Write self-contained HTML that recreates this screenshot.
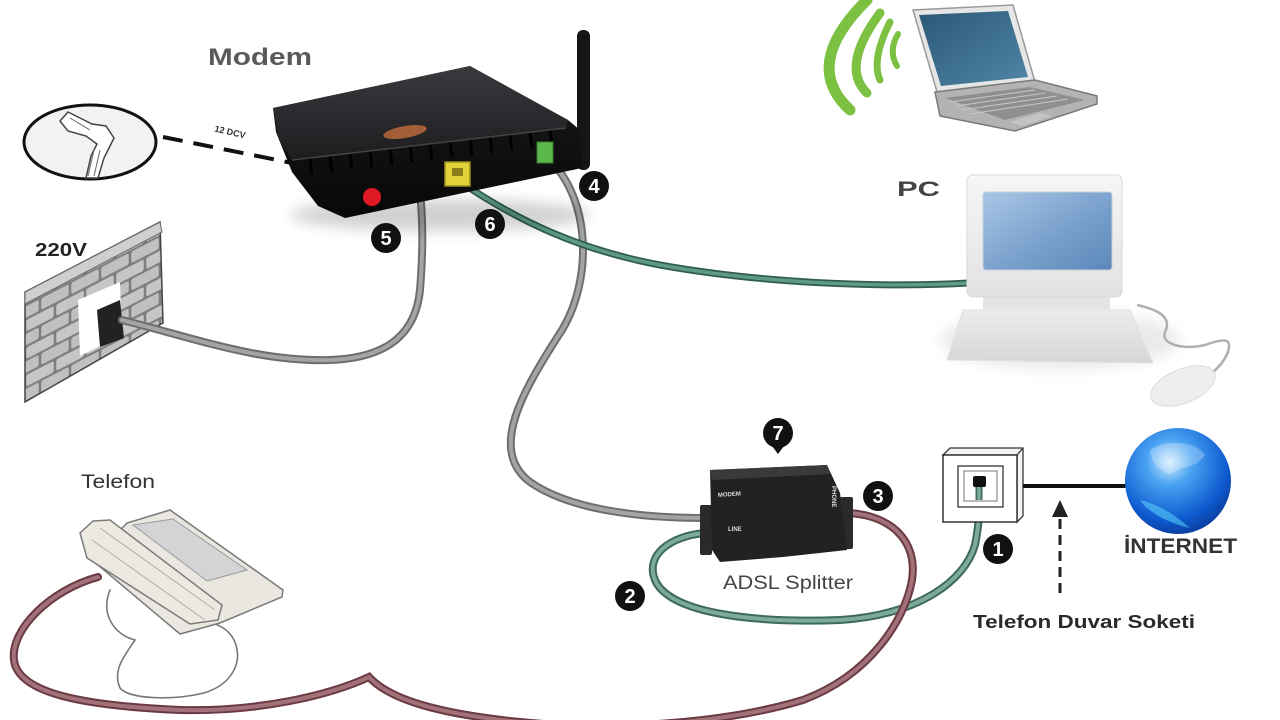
<!DOCTYPE html>
<html><head><meta charset="utf-8">
<style>html,body{margin:0;padding:0;background:#fff;}svg{display:block;}</style>
</head>
<body>
<svg width="1280" height="720" viewBox="0 0 1280 720" xmlns="http://www.w3.org/2000/svg" font-family="'Liberation Sans', Arial, sans-serif">
<defs>
  <linearGradient id="mTop" x1="0" y1="0" x2="0" y2="1"><stop offset="0" stop-color="#3a3a3e"/><stop offset="1" stop-color="#1d1d20"/></linearGradient>
  <linearGradient id="mFront" x1="0" y1="0" x2="0" y2="1"><stop offset="0" stop-color="#1a1a1a"/><stop offset="1" stop-color="#080808"/></linearGradient>
  <linearGradient id="lapScr" x1="0" y1="0" x2="1" y2="1"><stop offset="0" stop-color="#2c5877"/><stop offset="1" stop-color="#4f86a5"/></linearGradient>
  <linearGradient id="pcScr" x1="0" y1="0" x2="1" y2="1"><stop offset="0" stop-color="#a9c7e6"/><stop offset="0.5" stop-color="#7ea4cf"/><stop offset="1" stop-color="#5b87b8"/></linearGradient>
  <linearGradient id="pcFrame" x1="0" y1="0" x2="0" y2="1"><stop offset="0" stop-color="#f6f6f6"/><stop offset="1" stop-color="#e2e2e2"/></linearGradient>
  <linearGradient id="kb" x1="0" y1="0" x2="0" y2="1"><stop offset="0" stop-color="#ececec"/><stop offset="1" stop-color="#d6d6d6"/></linearGradient>
  <radialGradient id="globe" cx="0.42" cy="0.32" r="0.72"><stop offset="0" stop-color="#d4eeff"/><stop offset="0.3" stop-color="#4aa3f2"/><stop offset="0.75" stop-color="#0e5bd0"/><stop offset="1" stop-color="#0a3a9a"/></radialGradient>
  <filter id="blur" x="-50%" y="-50%" width="200%" height="200%"><feGaussianBlur stdDeviation="7"/></filter>
  <pattern id="bricks" patternUnits="userSpaceOnUse" width="30" height="27.5" patternTransform="translate(25,292) skewY(-27.4)">
    <rect x="0" y="0" width="30" height="27.5" fill="#7d7d7d"/>
    <rect x="1.2" y="1.2" width="27.6" height="11.4" rx="2" fill="#c6c6c6"/>
    <rect x="-13.8" y="14.9" width="27.6" height="11.4" rx="2" fill="#c0c0c0"/>
    <rect x="16.2" y="14.9" width="27.6" height="11.4" rx="2" fill="#c0c0c0"/>
  </pattern>
</defs>

<rect width="1280" height="720" fill="#ffffff"/>

<!-- Labels -->
<text x="208" y="65" font-size="24" font-weight="bold" fill="#5a5a5a" textLength="104" lengthAdjust="spacingAndGlyphs">Modem</text>
<text x="35" y="256" font-size="18" font-weight="bold" fill="#222" textLength="52" lengthAdjust="spacingAndGlyphs">220V</text>
<text x="81" y="488" font-size="19" fill="#333" textLength="74" lengthAdjust="spacingAndGlyphs">Telefon</text>
<text x="897" y="196" font-size="21" font-weight="bold" fill="#444" textLength="43" lengthAdjust="spacingAndGlyphs">PC</text>
<text x="723" y="589" font-size="19" fill="#444" textLength="130" lengthAdjust="spacingAndGlyphs">ADSL Splitter</text>
<text x="1124" y="553" font-size="21" font-weight="bold" fill="#333" textLength="113" lengthAdjust="spacingAndGlyphs">İNTERNET</text>
<text x="973" y="628" font-size="18" font-weight="bold" fill="#2a2a2a" textLength="222" lengthAdjust="spacingAndGlyphs">Telefon Duvar Soketi</text>

<!-- Plug bubble -->
<ellipse cx="90" cy="142" rx="66" ry="37" fill="#f2f2f2" stroke="#111" stroke-width="3"/>
<path d="M60,121 L68,112 L92,124 L106,126 L114,138 L104,158 L98,178 L86,178 L91,156 L97,144 L86,136 L68,131 Z" fill="#fff" stroke="#444" stroke-width="1.5"/>
<path d="M94,150 L88,176 M100,150 L94,176 M70,118 L90,130" stroke="#666" stroke-width="1" fill="none"/>
<line x1="163" y1="137" x2="292" y2="163" stroke="#111" stroke-width="4" stroke-dasharray="20 11"/>
<text x="214" y="135" font-size="9" font-weight="bold" fill="#333" transform="rotate(13 230 133)">12 DCV</text>

<!-- Brick wall -->
<polygon points="25,292 160,222 163,323 25,402" fill="url(#bricks)" stroke="#444" stroke-width="1.5"/>
<polygon points="25,292 160,222 162,232 25,304" fill="#cfcfcf" stroke="#666" stroke-width="1"/>
<polygon points="78,300 120,282 122,335 80,356" fill="#ffffff"/>
<polygon points="97,310 120,300 124,338 100,347" fill="#222"/>

<!-- Cables -->
<g fill="none" stroke-linecap="round">
  <!-- power (5) -->
  <path d="M122,320 C 200,340 260,362 330,360 C 392,358 416,330 420,290 C 424,240 422,212 420,192" stroke="#6e6e6e" stroke-width="8"/>
  <path d="M122,320 C 200,340 260,362 330,360 C 392,358 416,330 420,290 C 424,240 422,212 420,192" stroke="#a4a4a4" stroke-width="4"/>
  <!-- modem to splitter (4) -->
  <path d="M548,158 C 592,200 592,280 562,330 C 522,392 488,450 530,482 C 570,510 640,518 705,518" stroke="#6e6e6e" stroke-width="8"/>
  <path d="M548,158 C 592,200 592,280 562,330 C 522,392 488,450 530,482 C 570,510 640,518 705,518" stroke="#a4a4a4" stroke-width="4"/>
  <!-- to PC (6) -->
  <path d="M462,183 C 520,222 580,250 660,265 C 760,283 880,288 968,283" stroke="#2f5e4f" stroke-width="7"/>
  <path d="M462,183 C 520,222 580,250 660,265 C 760,283 880,288 968,283" stroke="#5f9a86" stroke-width="3.5"/>
  <!-- line cable (1/2) -->
  <path d="M705,533 C 670,536 645,555 655,580 C 670,615 760,623 840,620 C 920,615 965,580 975,545 C 980,520 980,500 979,487" stroke="#3d6b5b" stroke-width="8"/>
  <path d="M705,533 C 670,536 645,555 655,580 C 670,615 760,623 840,620 C 920,615 965,580 975,545 C 980,520 980,500 979,487" stroke="#7eab99" stroke-width="4"/>
  <!-- phone cable (3) -->
  <path d="M98,577 C 50,590 10,630 14,660 C 18,695 90,706 180,710 C 260,712 330,695 369,677 C 390,700 440,714 520,722 C 620,732 730,722 803,700 C 870,675 905,620 912,580 C 918,540 890,515 848,513" stroke="#6b3a43" stroke-width="8"/>
  <path d="M98,577 C 50,590 10,630 14,660 C 18,695 90,706 180,710 C 260,712 330,695 369,677 C 390,700 440,714 520,722 C 620,732 730,722 803,700 C 870,675 905,620 912,580 C 918,540 890,515 848,513" stroke="#a2727a" stroke-width="4"/>
  <!-- phone cord -->
  <path d="M110,590 C 100,615 115,635 135,640 C 125,655 112,670 120,688 C 130,700 175,700 204,693 C 230,685 242,665 236,645 C 232,632 222,626 212,623" stroke="#777" stroke-width="1.6"/>
</g>

<!-- Modem -->
<ellipse cx="440" cy="215" rx="150" ry="16" fill="#000" opacity="0.18" filter="url(#blur)"/>
<rect x="577" y="30" width="13" height="140" rx="6" fill="#151515"/>
<polygon points="273,108 470,66 568,120 580,130 582,168 345,218 318,206 292,172 276,132" fill="url(#mFront)"/>
<polygon points="273,108 470,66 568,120 566,128 292,160 279,140" fill="url(#mTop)"/>
<g stroke="#000" stroke-width="3">
  <line x1="310" y1="158" x2="312" y2="174"/><line x1="330" y1="156" x2="332" y2="172"/>
  <line x1="350" y1="153" x2="352" y2="169"/><line x1="370" y1="151" x2="372" y2="167"/>
  <line x1="390" y1="149" x2="392" y2="165"/><line x1="410" y1="146" x2="412" y2="162"/>
  <line x1="430" y1="144" x2="432" y2="160"/><line x1="450" y1="141" x2="452" y2="157"/>
  <line x1="470" y1="139" x2="472" y2="155"/><line x1="490" y1="137" x2="492" y2="153"/>
  <line x1="510" y1="134" x2="512" y2="150"/><line x1="530" y1="132" x2="532" y2="148"/>
  <line x1="550" y1="130" x2="552" y2="146"/>
</g>
<line x1="292" y1="160" x2="566" y2="128" stroke="#444" stroke-width="1.5"/>
<ellipse cx="405" cy="132" rx="22" ry="6" fill="#b8683a" opacity="0.85" transform="rotate(-10 405 132)"/>
<rect x="445" y="162" width="25" height="24" fill="#e2d23a" stroke="#9a8e20" stroke-width="1.5"/>
<rect x="452" y="168" width="11" height="8" fill="#8a7d18"/>
<rect x="537" y="142" width="16" height="21" fill="#5cb84a" stroke="#3a7a2c" stroke-width="1"/>
<circle cx="372" cy="197" r="9" fill="#e01a24"/>

<!-- Badges -->
<g font-weight="bold" font-size="20" fill="#fff" text-anchor="middle">
  <circle cx="386" cy="238" r="15" fill="#111"/><text x="386" y="245">5</text>
  <circle cx="490" cy="224" r="15" fill="#111"/><text x="490" y="231">6</text>
  <circle cx="594" cy="186" r="15" fill="#111"/><text x="594" y="193">4</text>
  <circle cx="778" cy="433" r="15" fill="#111"/><polygon points="772,446 784,446 778,454" fill="#111"/><text x="778" y="440">7</text>
  <circle cx="878" cy="496" r="15" fill="#111"/><text x="878" y="503">3</text>
  <circle cx="630" cy="596" r="15" fill="#111"/><text x="630" y="603">2</text>
  <circle cx="998" cy="549" r="15" fill="#111"/><text x="998" y="556">1</text>
</g>

<!-- Wifi -->
<g fill="none" stroke="#7cc142" stroke-linecap="round">
  <path d="M867,0 Q801,65 850,110" stroke-width="11"/>
  <path d="M880,13 Q840,67 867,93" stroke-width="9"/>
  <path d="M890,22 Q871,60 880,80" stroke-width="7"/>
  <path d="M898,34 Q888,51 897,66" stroke-width="6"/>
</g>

<!-- Laptop -->
<polygon points="913,10 1013,5 1035,82 937,92" fill="#e6e6e6" stroke="#9a9a9a" stroke-width="1.5"/>
<polygon points="919,15 1008,11 1028,77 941,86" fill="url(#lapScr)"/>
<polygon points="935,92 1035,80 1097,96 1097,104 1015,131 940,116" fill="#b3b3b3" stroke="#7a7a7a" stroke-width="1.5"/>
<polygon points="945,98 1030,87 1085,100 1005,120" fill="#8f8f8f"/>
<g stroke="#c8c8c8" stroke-width="1">
  <line x1="950" y1="102" x2="1035" y2="90"/><line x1="956" y1="106" x2="1045" y2="93"/>
  <line x1="962" y1="110" x2="1057" y2="96"/><line x1="970" y1="114" x2="1068" y2="99"/>
</g>
<polygon points="1010,122 1040,113 1052,116 1022,126" fill="#c4c4c4"/>

<!-- PC -->
<ellipse cx="1060" cy="340" rx="120" ry="30" fill="#000" opacity="0.08" filter="url(#blur)"/>
<polygon points="963,310 1130,310 1153,363 947,360" fill="url(#kb)" stroke="#e0e0e0" stroke-width="1"/>
<rect x="983" y="295" width="127" height="14" fill="#e4e4e4"/>
<rect x="967" y="175" width="155" height="122" rx="6" fill="url(#pcFrame)" stroke="#dadada" stroke-width="1"/>
<rect x="983" y="192" width="129" height="78" rx="3" fill="url(#pcScr)" stroke="#c4cfdc" stroke-width="1"/>
<path d="M1137,305 C 1160,310 1172,318 1165,332 C 1160,345 1185,350 1205,345 C 1225,338 1232,338 1228,352 C 1224,362 1218,368 1212,373" fill="none" stroke="#b0b0b0" stroke-width="2.5"/>
<ellipse cx="1183" cy="386" rx="34" ry="17" transform="rotate(-22 1183 386)" fill="#eeeeee" stroke="#dcdcdc" stroke-width="1"/>

<!-- Splitter -->
<rect x="700" y="505" width="12" height="50" rx="2" fill="#2a2a2a"/>
<rect x="840" y="497" width="13" height="52" rx="2" fill="#2a2a2a"/>
<polygon points="710,470 827,465 840,493 847,550 783,557 720,562 712,550" fill="#222"/>
<polygon points="710,470 827,465 831,474 712,480" fill="#3a3a3a"/>
<text x="718" y="497" font-size="6" font-weight="bold" fill="#ddd" transform="rotate(-4 718 497)">MODEM</text>
<text x="728" y="531" font-size="6" font-weight="bold" fill="#ddd">LINE</text>
<text x="832" y="486" font-size="6" font-weight="bold" fill="#ddd" transform="rotate(90 832 486)">PHONE</text>

<!-- Wall socket -->
<polygon points="943,455 950,448 1023,448 1023,516 1017,522 1017,455" fill="#f4f4f4" stroke="#333" stroke-width="1.3"/>
<line x1="1017" y1="455" x2="1023" y2="448" stroke="#333" stroke-width="1.3"/>
<rect x="943" y="455" width="74" height="67" fill="#fff" stroke="#333" stroke-width="1.5"/>
<rect x="958" y="466" width="45" height="41" fill="#fff" stroke="#333" stroke-width="1.3"/>
<rect x="964" y="471" width="33" height="30" fill="none" stroke="#777" stroke-width="1"/>
<rect x="973" y="476" width="13" height="11" rx="2" fill="#111"/>
<path d="M979,487 L979,500" stroke="#3d6b5b" stroke-width="7"/>
<path d="M979,487 L979,500" stroke="#7eab99" stroke-width="3.5"/>

<!-- Line to globe and arrow -->
<line x1="1023" y1="486" x2="1130" y2="486" stroke="#111" stroke-width="4"/>
<line x1="1060" y1="593" x2="1060" y2="515" stroke="#222" stroke-width="3" stroke-dasharray="10 6"/>
<polygon points="1060,500 1052,517 1068,517" fill="#222"/>

<!-- Globe -->
<circle cx="1178" cy="481" r="53" fill="url(#globe)"/>
<path d="M1150,450 C 1165,440 1195,440 1205,455 C 1195,470 1180,465 1170,475 C 1160,470 1150,462 1150,450 Z" fill="#ffffff" opacity="0.25"/>
<path d="M1140,500 C 1150,515 1175,525 1190,528 C 1175,515 1160,505 1140,500 Z" fill="#5fe0ff" opacity="0.5"/>

<!-- Telephone -->
<polygon points="127,523 170,510 283,590 282,597 220,623 180,634 92,560" fill="#e9e7df" stroke="#7a7a7a" stroke-width="1.5"/>
<polygon points="133,525 173,519 247,570 207,581" fill="#d4d4d6" stroke="#9a9a9a" stroke-width="1"/>
<polygon points="80,533 93,521 110,520 222,605 218,620 190,624 87,558" fill="#ebe9e0" stroke="#7a7a7a" stroke-width="1.5"/>
<path d="M92,540 L205,620 M100,528 L215,610" stroke="#b0aea6" stroke-width="1" fill="none"/>
</svg>
</body></html>
